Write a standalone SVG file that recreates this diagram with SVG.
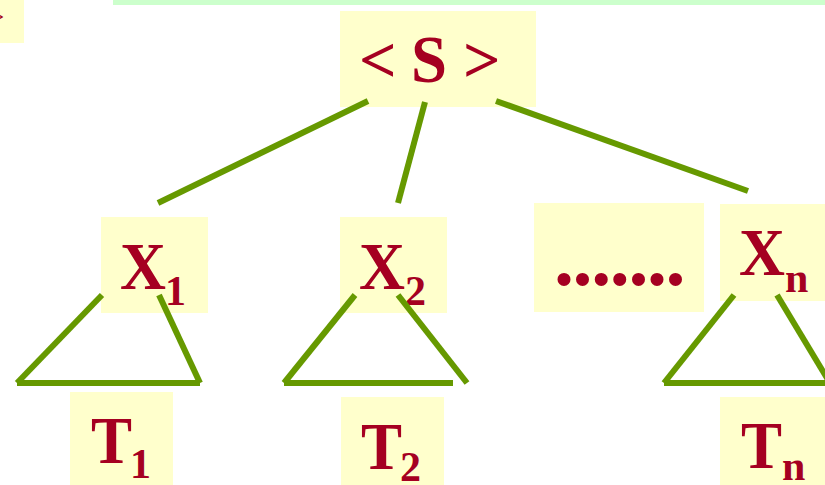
<svg xmlns="http://www.w3.org/2000/svg" width="825" height="485" viewBox="0 0 825 485">
<style>
.box{fill:#FFFFCC}
.t{font-family:"Liberation Serif","Times New Roman",serif;fill:#A50021;font-weight:bold}
.big{font-size:68px}
.sub{font-size:42px}
.ln{stroke:#669900;stroke-width:6;fill:none;stroke-linecap:butt}
</style>
<rect x="0" y="0" width="825" height="485" fill="#FFFFFF"/>
<rect x="113" y="0" width="712" height="5" fill="#CCFFCC"/>
<g id="leftfrag">
<rect class="box" x="0" y="0" width="24" height="43"/>
<text class="t" x="4" y="24" font-size="20" text-anchor="end">&gt;</text>
</g>
<g id="S">
<rect class="box" x="340" y="11" width="196" height="96"/>
<text class="t" x="359" y="82" font-size="66" font-weight="normal">&lt;</text>
<text class="t" x="411" y="82" font-size="68" textLength="36" lengthAdjust="spacingAndGlyphs">S</text>
<text class="t" x="463" y="82" font-size="66" font-weight="normal">&gt;</text>
</g>
<g id="X1">
<rect class="box" x="101" y="217" width="107" height="96"/>
<text class="t big" x="120" y="289" textLength="46" lengthAdjust="spacingAndGlyphs">X</text>
<text class="t sub" x="165" y="305">1</text>
</g>
<g id="X2">
<rect class="box" x="340" y="217" width="107" height="96"/>
<text class="t big" x="359" y="289" textLength="46" lengthAdjust="spacingAndGlyphs">X</text>
<text class="t sub" x="405" y="305">2</text>
</g>
<g id="dots">
<rect class="box" x="534" y="203" width="170" height="109"/>
<text class="t" x="554" y="285" font-size="80" letter-spacing="-1.4">.......</text>
</g>
<g id="Xn">
<rect class="box" x="720" y="204" width="105" height="97"/>
<text class="t big" x="739" y="275" textLength="46" lengthAdjust="spacingAndGlyphs">X</text>
<text class="t sub" x="785" y="292">n</text>
</g>
<g id="T1">
<rect class="box" x="70" y="392" width="103" height="93"/>
<text class="t big" x="91" y="463" textLength="41" lengthAdjust="spacingAndGlyphs">T</text>
<text class="t sub" x="130" y="478">1</text>
</g>
<g id="T2">
<rect class="box" x="341" y="397" width="103" height="88"/>
<text class="t big" x="361" y="469" textLength="41" lengthAdjust="spacingAndGlyphs">T</text>
<text class="t sub" x="400" y="481">2</text>
</g>
<g id="Tn">
<rect class="box" x="720" y="397" width="105" height="88"/>
<text class="t big" x="741" y="468" textLength="41" lengthAdjust="spacingAndGlyphs">T</text>
<text class="t sub" x="782" y="480">n</text>
</g>
<g id="connectors">
<line class="ln" x1="368" y1="101" x2="158" y2="203"/>
<line class="ln" x1="425" y1="102" x2="398" y2="203"/>
<line class="ln" x1="496" y1="101" x2="748" y2="191"/>
<line class="ln" x1="102" y1="295" x2="17" y2="383"/>
<line class="ln" x1="159" y1="295" x2="200" y2="383"/>
<line class="ln" x1="17" y1="383" x2="200" y2="383"/>
<line class="ln" x1="355" y1="295" x2="284" y2="383"/>
<line class="ln" x1="398" y1="295" x2="467" y2="383"/>
<line class="ln" x1="284" y1="383" x2="453" y2="383"/>
<line class="ln" x1="734" y1="295" x2="664" y2="383"/>
<line class="ln" x1="777" y1="295" x2="830" y2="383"/>
<line class="ln" x1="664" y1="383" x2="825" y2="383"/>
</g>
</svg>
